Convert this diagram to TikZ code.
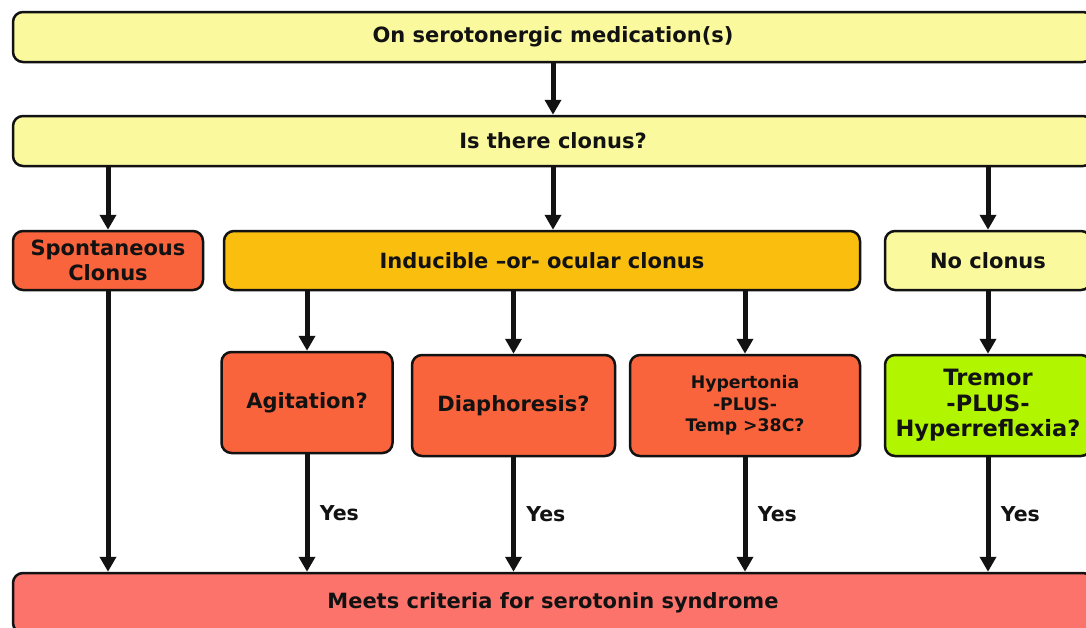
\documentclass[tikz,border=0pt]{standalone}
\usepackage{fontspec}
\setmainfont{DejaVu Sans}
\usetikzlibrary{arrows.meta}
\definecolor{paleyellow}{RGB}{251,249,158}
\definecolor{redorange}{RGB}{250,100,60}
\definecolor{amber}{RGB}{250,190,15}
\definecolor{limegreen}{RGB}{178,245,0}
\definecolor{salmon}{RGB}{252,115,108}
\definecolor{ink}{RGB}{18,18,18}
\begin{document}
\begin{tikzpicture}[x=1pt,y=-1pt,
	box/.style={draw=ink, line width=2.5pt, rounded corners=10pt, inner sep=0pt, align=center,
		text=ink, font=\fontsize{21}{25}\selectfont\bfseries},
	flow/.style={-{Triangle[length=15pt,width=16pt]}, line width=5pt, draw=ink},
	yes/.style={midway, right, xshift=7pt, text=ink, font=\fontsize{20.5}{25}\selectfont\bfseries}]
	\useasboundingbox (0,0) rectangle (1086,627);
	\clip (0,0) rectangle (1086,627);
	\fill[white] (0,0) rectangle (1086,627);

	\node[box, fill=paleyellow, minimum width=1080pt, minimum height=50pt] (meds) at (553,37) {On serotonergic medication(s)};
	\node[box, fill=paleyellow, minimum width=1080pt, minimum height=50pt] (clonus) at (553,141) {Is there clonus?};

	\node[box, fill=redorange, minimum width=190pt, minimum height=59pt] (spont) at (108,260.5) {Spontaneous\\Clonus};
	\node[box, fill=amber, minimum width=636pt, minimum height=59pt] (induc) at (542,260.5) {Inducible --or- ocular clonus};
	\node[box, fill=paleyellow, minimum width=206pt, minimum height=59pt] (noclon) at (988,260.5) {No clonus};

	\node[box, fill=redorange, minimum width=171pt, minimum height=101pt] (agit) at (307,402.5) {Agitation?};
	\node[box, fill=redorange, minimum width=203pt, minimum height=101pt] (diaph) at (513.5,405.5) {Diaphoresis?};
	\node[box, fill=redorange, minimum width=230pt, minimum height=101pt,
		font=\fontsize{17.3}{21.5}\selectfont\bfseries] (hyper) at (745,405.5) {Hypertonia\\-PLUS-\\Temp >38C?};
	\node[box, fill=limegreen, minimum width=206pt, minimum height=101pt,
		font=\fontsize{22.5}{25.5}\selectfont\bfseries] (tremor) at (988,405.5) {Tremor\\-PLUS-\\Hyperreflexia?};

	\node[box, fill=salmon, minimum width=1080pt, minimum height=60pt] (meets) at (553,603) {Meets criteria for serotonin syndrome};

	\draw[flow] (meds) -- (clonus);
	\draw[flow] (clonus.south -| spont) -- (spont);
	\draw[flow] (clonus) -- (clonus |- induc.north);
	\draw[flow] (clonus.south -| noclon) -- (noclon);

	\draw[flow] (induc.south -| agit) -- (agit);
	\draw[flow] (induc.south -| diaph) -- (diaph);
	\draw[flow] (induc.south -| hyper) -- (hyper);
	\draw[flow] (noclon) -- (tremor);

	\draw[flow] (spont) -- (spont |- meets.north);
	\draw[flow] (agit) -- (agit |- meets.north) node[yes]{Yes};
	\draw[flow] (diaph) -- (diaph |- meets.north) node[yes]{Yes};
	\draw[flow] (hyper) -- (hyper |- meets.north) node[yes]{Yes};
	\draw[flow] (tremor) -- (tremor |- meets.north) node[yes]{Yes};
\end{tikzpicture}
\end{document}
